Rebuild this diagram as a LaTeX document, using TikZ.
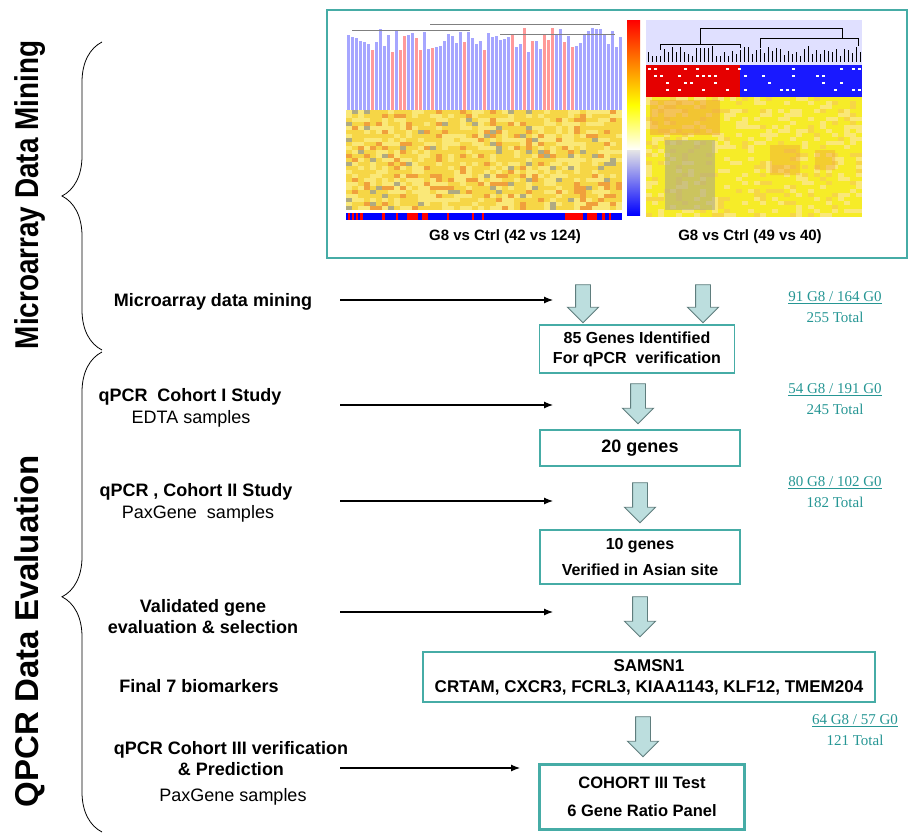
\documentclass[tikz,border=0pt]{standalone}
\usepackage{fontspec}
\setmainfont{Liberation Sans}
\newfontfamily\cntfont{Liberation Serif}
\usetikzlibrary{shapes.arrows,decorations.pathreplacing,arrows.meta}
\definecolor{boxteal}{RGB}{70,172,166}
\definecolor{cntteal}{RGB}{38,150,148}
\definecolor{arrfill}{RGB}{188,222,222}
\definecolor{arredge}{RGB}{95,125,125}
\definecolor{hy}{RGB}{246,214,70}
\definecolor{hl}{RGB}{250,232,120}
\definecolor{ho}{RGB}{240,160,60}
\definecolor{hg}{RGB}{175,170,130}
\definecolor{ry}{RGB}{246,236,40}

\begin{document}
\begin{tikzpicture}[x=1pt,y=-1pt,
  lbl/.style={font=\fontsize{18}{21}\selectfont\bfseries, align=center},
  sub/.style={font=\fontsize{18}{21}\selectfont},
  genebox/.style={draw=boxteal, line width=1.4pt, align=center, inner sep=0,
    font=\fontsize{16}{20}\selectfont\bfseries},
  cnt/.style={font=\cntfont\fontsize{15}{21}\selectfont, text=cntteal, align=center},
  blk/.style={shape=single arrow, shape border rotate=270, draw=arredge, fill=arrfill,
    line width=0.9pt, minimum height=40pt, minimum width=30pt, inner sep=7pt,
    single arrow head extend=8pt, single arrow head indent=0pt},
  lead/.style={-{Latex[length=9pt,width=7pt]}, line width=1.1pt},
  title/.style={rotate=90, font=\fontsize{33}{36}\selectfont\bfseries},
  brc/.style={decorate, decoration={brace, amplitude=40pt}, line width=0.8pt}]
\useasboundingbox (0,0) rectangle (915,835);

% Section titles and braces
\node[title] (t1) at (30,195) {\scalebox{0.845}[1]{Microarray Data Mining}};
\node[title] (t2) at (30,631) {\scalebox{1.0}[1]{QPCR Data Evaluation}};
\coordinate (u1) at (102,350);
\coordinate (u2) at (102,42);
\coordinate (d1) at (102,832);
\coordinate (d2) at (102,352);
\draw[brc] (u1) -- (u2);
\draw[brc, decoration={aspect=0.49}] (d1) -- (d2);

% Heat map panel
\node[draw=boxteal, line width=1.4pt, minimum width=580pt, minimum height=248pt, inner sep=0] (mp) at (617,134) {};
\pgfmathsetseed{7}
\foreach \i in {0,...,68}{
  \pgfmathrandominteger{\c}{0}{3}
  \pgfmathrandominteger{\h}{28}{52}
  \ifnum\c=0 \def\col{red!40}\else\def\col{blue!35}\fi
  \fill[\col] (347+4*\i,\h) rectangle ++(3,110-\h);
}
\draw[gray] (352,30) -- (470,30) (430,24) -- (600,24) (500,34) -- (615,34);
\foreach \r in {0,...,24}{
  \foreach \k in {0,...,45}{
    \pgfmathrandominteger{\c}{0}{19}
    \ifnum\c<9 \def\col{hy}\else\ifnum\c<16 \def\col{hl}\else\ifnum\c<19 \def\col{ho}\else\def\col{hg}\fi\fi\fi
    \fill[\col] (346+6*\k,110+4*\r) rectangle ++(6,4);
  }
}
\fill[blue] (346,213) rectangle (622,220);
\foreach \a/\b in {348/350,352/354,356/358,360/363,382/385,396/398,407/418,422/428,
  447/449,472/474,482/484,565/583,587/597,602/605,609/611}
  \fill[red] (\a,213) rectangle (\b,220);
\shade[top color=red, bottom color=yellow] (627,20) rectangle (640,105);
\shade[top color=yellow, bottom color=white] (627,105) rectangle (640,150);
\shade[top color=white!80!gray, bottom color=blue] (627,150) rectangle (640,215);
\fill[blue!12] (646,20) rectangle (862,65);
\foreach \i in {0,...,53}{
  \pgfmathrandominteger{\h}{46}{56}
  \draw[line width=1pt] (648+4*\i,\h) -- (648+4*\i,62);
}
\draw[line width=1pt] (700,28) -- (842,28) (700,28) -- (700,44) (842,28) -- (842,38)
  (660,44) -- (740,44) (660,44) -- (660,50) (740,44) -- (740,48)
  (760,38) -- (858,38) (760,38) -- (760,48) (858,38) -- (858,46);
\fill[red!90!black] (646,65) rectangle (740,97);
\fill[blue!90] (740,65) rectangle (862,97);
\foreach \r in {0,...,3}{
  \foreach \k in {0,...,35}{
    \pgfmathrandominteger{\c}{0}{2}
    \ifnum\c=0 \fill[white] (648+6*\k,68+7*\r) rectangle ++(3,2);\fi
  }
}
\foreach \r in {0,...,29}{
  \foreach \k in {0,...,35}{
    \pgfmathrandominteger{\c}{0}{7}
    \ifcase\c \def\col{ry}\or\def\col{ry}\or\def\col{ry}\or\def\col{hl}\or
      \def\col{ry}\or\def\col{hy}\or\def\col{ry}\else\def\col{hl}\fi
    \fill[\col] (646+6*\k,97+4*\r) rectangle ++(6,4);
  }
}
\fill[hg, opacity=0.6] (665,140) rectangle (715,210);
\fill[ho, opacity=0.5] (650,100) rectangle (720,135);
\fill[ho, opacity=0.4] (770,145) rectangle (800,175) (815,150) rectangle (835,170);
\node[font=\fontsize{15}{18}\selectfont\bfseries] (g1) at (505,237) {G8 vs Ctrl (42 vs 124)};
\node[font=\fontsize{15}{18}\selectfont\bfseries] (g2) at (750,237) {G8 vs Ctrl (49 vs 40)};

% Left labels
\node[lbl] (l1) at (213,302) {Microarray data mining};
\node[lbl] (l2) at (190,397) {qPCR\ \ Cohort I Study};
\node[sub] (l2s) at (191,419) {EDTA samples};
\node[lbl] (l3) at (196,492) {qPCR , Cohort II Study};
\node[sub] (l3s) at (198,514) {PaxGene\ \ samples};
\node[lbl] (l4) at (203,617) {Validated gene\\evaluation \& selection};
\node[lbl] (l5) at (199,686) {Final 7 biomarkers};
\node[lbl] (l6) at (231,759) {qPCR Cohort III verification\\\& Prediction};
\node[sub] (l6s) at (233,797) {PaxGene samples};

% Gene boxes
\node[genebox, minimum width=195pt, minimum height=48pt] (n85) at (637,349)
  {85 Genes Identified\\For qPCR\ \ verification};
\node[genebox, minimum width=200pt, minimum height=36pt,
  font=\fontsize{18}{21}\selectfont\bfseries] (n20) at (640,448) {20 genes};
\node[genebox, minimum width=200pt, minimum height=54pt] (n10) at (640,557)
  {10 genes\\[6pt]Verified in Asian site};
\node[genebox, minimum width=452pt, minimum height=50pt,
  font=\fontsize{17}{21}\selectfont\bfseries] (n7) at (649,677)
  {SAMSN1\\CRTAM, CXCR3, FCRL3, KIAA1143, KLF12, TMEM204};
\node[genebox, line width=2.4pt, minimum width=205pt, minimum height=65pt,
  font=\fontsize{16.5}{20}\selectfont\bfseries] (n6) at (642,797)
  {COHORT III Test\\[8pt]6 Gene Ratio Panel};

% Block arrows
\node[blk, minimum height=38pt] (b1) at (583,300) {};
\node[blk, minimum height=38pt] (b2) at (703,300) {};
\node[blk] (b3) at (638,400) {};
\node[blk] (b4) at (640,499) {};
\node[blk] (b5) at (640,613) {};
\node[blk] (b6) at (643,733) {};

% Leader arrows
\coordinate (s1) at (340,300);
\coordinate (e1) at (553,300);
\coordinate (s2) at (340,405);
\coordinate (e2) at (553,405);
\coordinate (s3) at (340,501);
\coordinate (e3) at (553,501);
\coordinate (s4) at (340,612);
\coordinate (e4) at (553,612);
\coordinate (s5) at (340,768);
\coordinate (e5) at (520,768);
\draw[lead] (s1) -- (e1);
\draw[lead] (s2) -- (e2);
\draw[lead] (s3) -- (e3);
\draw[lead] (s4) -- (e4);
\draw[lead] (s5) -- (e5);

% Sample counts
\node[cnt] (c1) at (835,307) {\underline{91 G8 / 164 G0}\\255 Total};
\node[cnt] (c2) at (835,399) {\underline{54 G8 / 191 G0}\\245 Total};
\node[cnt] (c3) at (835,492) {\underline{80 G8 / 102 G0}\\182 Total};
\node[cnt] (c4) at (855,730) {\underline{64 G8 / 57 G0}\\121 Total};
\end{tikzpicture}
\end{document}
